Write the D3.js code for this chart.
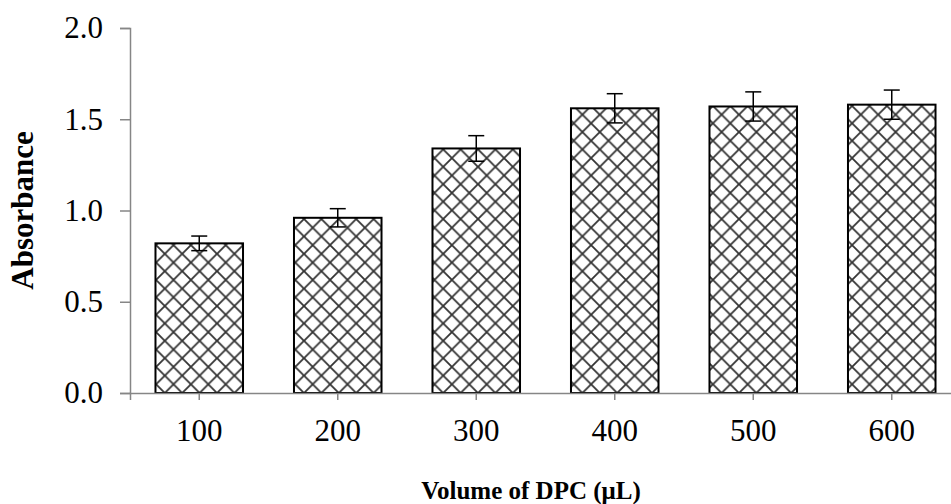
<!DOCTYPE html>
<html>
<head>
<meta charset="utf-8">
<script src="https://cdn.jsdelivr.net/npm/d3@7"></script>
<style>
  body { margin: 0; background: #fff; }
  text { font-family: "Liberation Serif", "Times New Roman", serif; }
</style>
</head>
<body>
<div id="chart"></div>
<script>
// Absorbance vs volume of DPC

const categories = ["100", "200", "300", "400", "500", "600"];
const absorbance = [0.82, 0.96, 1.34, 1.56, 1.57, 1.58];
const errors = [0.04, 0.05, 0.07, 0.08, 0.08, 0.08];
const yTicks = [0.0, 0.5, 1.0, 1.5, 2.0];

const width = 951, height = 504;
const plotLeft = 130, plotTop = 28, plotBottom = 393, plotRight = 961;

const svg = d3.select("#chart")
    .append("svg")
    .attr("width", width)
    .attr("height", height);

// crosshatch pattern
const s = 17.4;
const pat = svg.append("defs").append("pattern")
    .attr("id", "hatch")
    .attr("patternUnits", "userSpaceOnUse")
    .attr("x", plotLeft)
    .attr("y", plotBottom)
    .attr("width", s)
    .attr("height", s);
pat.append("rect").attr("width", s).attr("height", s).attr("fill", "#fff");
pat.append("path")
    .attr("d", `M0,0L${s},${s}M${s},0L0,${s}`)
    .attr("stroke", "#333")
    .attr("stroke-width", 1.8);

const x = d3.scaleBand()
    .domain(categories)
    .range([plotLeft, plotRight])
    .paddingInner(0.368)
    .paddingOuter(0.184);

const y = d3.scaleLinear()
    .domain([0, 2])
    .range([plotBottom, plotTop]);

// y axis
const yAxis = svg.append("g")
    .attr("transform", `translate(${plotLeft},0)`)
    .call(d3.axisLeft(y).tickValues(yTicks).tickFormat(d3.format(".1f")).tickSizeOuter(0).tickSize(10).tickPadding(17));
yAxis.select(".domain").attr("stroke", "#868686").attr("stroke-width", 1.5);
yAxis.selectAll(".tick line").attr("stroke", "#868686").attr("stroke-width", 1.5);
yAxis.selectAll(".tick text").style("font-size", "31px").attr("fill", "#000")
    .style("font-family", "'Liberation Serif', serif");

// bars
svg.selectAll("rect.bar")
    .data(absorbance)
    .enter()
    .append("rect")
    .attr("class", "bar")
    .attr("x", (d, i) => x(categories[i]))
    .attr("y", d => y(d))
    .attr("width", x.bandwidth())
    .attr("height", d => y(0) - y(d))
    .attr("fill", "url(#hatch)")
    .attr("stroke", "#000")
    .attr("stroke-width", 2);

// x axis
const xAxis = svg.append("g")
    .attr("transform", `translate(0,${plotBottom})`)
    .call(d3.axisBottom(x).tickSizeOuter(0).tickSize(7).tickPadding(19));
xAxis.select(".domain").attr("stroke", "#868686").attr("stroke-width", 1.5);
xAxis.selectAll(".tick line").attr("stroke", "#868686").attr("stroke-width", 1.5);
xAxis.selectAll(".tick text").style("font-size", "31px").attr("fill", "#000")
    .style("font-family", "'Liberation Serif', serif");

// error bars
const cap = 8;
const eb = svg.append("g").attr("stroke", "#000").attr("stroke-width", 1.5);
absorbance.forEach((d, i) => {
    const cx = x(categories[i]) + x.bandwidth() / 2;
    const y1 = y(d + errors[i]), y2 = y(d - errors[i]);
    eb.append("line").attr("x1", cx).attr("x2", cx).attr("y1", y1).attr("y2", y2);
    eb.append("line").attr("x1", cx - cap).attr("x2", cx + cap).attr("y1", y1).attr("y2", y1);
    eb.append("line").attr("x1", cx - cap).attr("x2", cx + cap).attr("y1", y2).attr("y2", y2);
});

// axis titles
svg.append("text")
    .attr("transform", `translate(33,${(plotTop + plotBottom) / 2}) rotate(-90)`)
    .attr("text-anchor", "middle")
    .style("font-size", "31px")
    .style("font-weight", "bold")
    .text("Absorbance");

svg.append("text")
    .attr("x", 531)
    .attr("y", 499)
    .attr("text-anchor", "middle")
    .style("font-size", "25px")
    .style("font-weight", "bold")
    .text("Volume of DPC (μL)");
</script>
</body>
</html>
